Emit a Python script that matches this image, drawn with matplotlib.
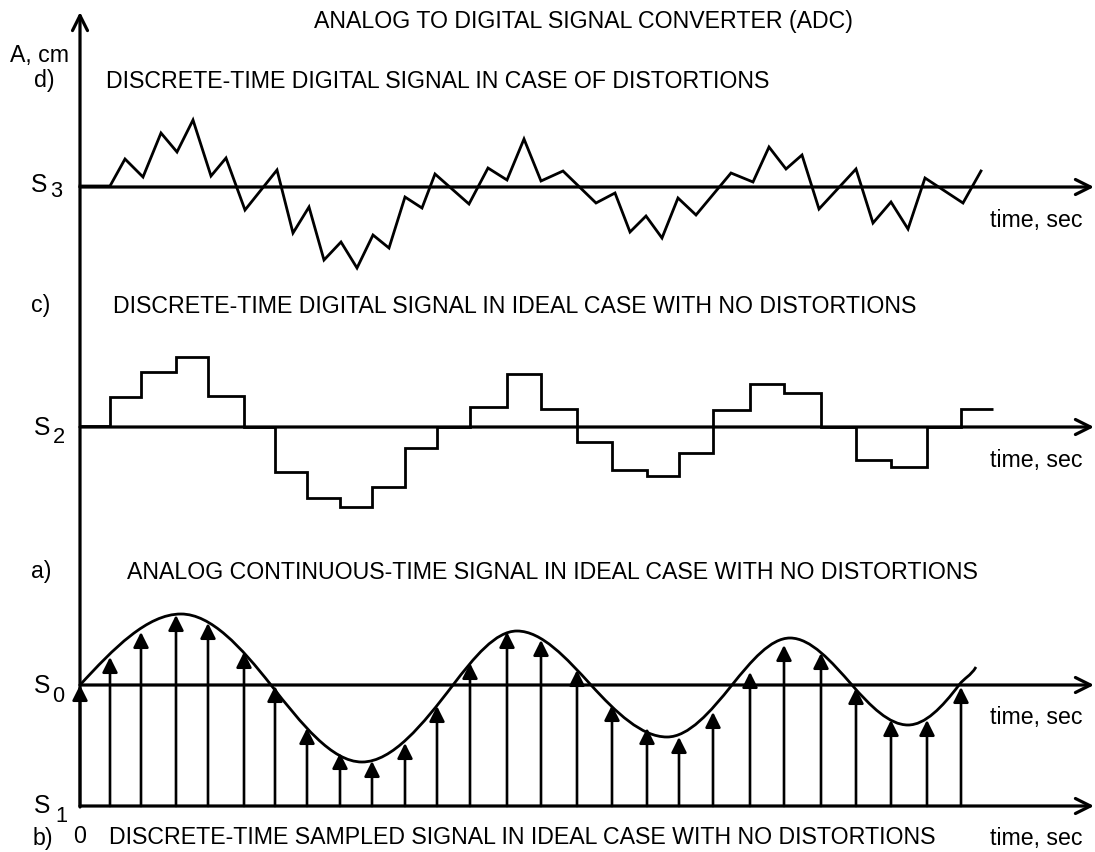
import numpy as np
import matplotlib
matplotlib.use("Agg")
import matplotlib.pyplot as plt
from matplotlib.path import Path
from matplotlib.patches import PathPatch

plt.rcParams['font.family'] = ['Liberation Sans', 'DejaVu Sans']

# sample instants, measured from the time origin
sample_t = [0, 30, 61, 96, 128, 164, 195, 227, 260, 292, 325, 357, 390, 427,
            461, 497, 532, 567, 599, 633, 670, 704, 741, 776, 811, 847, 881]
step_end = 913

# a) analog signal: zero crossings and extremes of the continuous curve
analog_t = [0, 101, 191, 282, 373, 437, 511, 587, 652, 710, 772, 828, 879, 896]
analog_a = [0, 71, 0, -77, 0, 54, 0, -52, 0, 47, 0, -40, 0, 18]

# b) sampled values (arrow heights above S0)
sampled_a = [0, 28, 53, 70, 62, 33, -1, -43, -68, -76, -58, -21, 22, 53,
             45, 15, -20, -43, -52, -27, 13, 40, 32, -3, -35, -35, -2]

# c) quantized levels held over each sample period
quant_a = [1, 30, 55, 70, 31, 0, -45, -71, -80, -60, -21, 0, 20, 53,
           18, -15, -43, -49, -26, 17, 43, 34, 0, -33, -40, 0, 18]

# d) digital signal with distortions
noisy_t = [0, 30, 45, 63, 81, 97, 113, 131, 146, 165, 197, 213, 229, 244,
           261, 277, 293, 309, 325, 342, 355, 389, 408, 427, 444, 461, 483,
           516, 535, 550, 566, 582, 598, 616, 651, 673, 689, 706, 722, 739,
           776, 793, 811, 828, 845, 883, 901]
noisy_a = [1, 1, 28, 10, 54, 35, 67, 11, 29, -23, 17, -46, -20, -73,
           -55, -81, -48, -61, -10, -21, 13, -17, 19, 7, 48, 6, 16,
           -16, -6, -45, -29, -51, -11, -28, 14, 5, 40, 18, 32, -22,
           18, -36, -15, -42, 9, -16, 16]

# layout (figure pixels, y downwards)
X0 = 80
X_END = 1094
Y_S3, Y_S2, Y_S0, Y_S1 = 187, 427, 685, 806

LW_AX = 2.3
LW_SIG = 2.0
FS = 16.7


def wave_path(ts, amps, y0):
    """Cubic path through crossings/extremes: flat at the peaks, steep at the crossings."""
    ts = np.asarray(ts, float)
    amps = np.asarray(amps, float)
    n = len(ts)
    slope = np.zeros(n)
    for i in range(n):
        lo, hi = max(i - 1, 0), min(i + 1, n - 1)
        is_peak = 0 < i < n - 1 and amps[i] != 0
        if not is_peak:
            da = amps[hi] - amps[lo]
            dt = ts[hi] - ts[lo]
            if i == 0 or i == n - 1:
                da, dt = 2 * da, 2 * dt
            slope[i] = 1.55 * da / dt
    xs = X0 + ts
    ys = y0 - amps
    verts = [(xs[0], ys[0])]
    codes = [Path.MOVETO]
    for i in range(n - 1):
        d = (xs[i + 1] - xs[i]) / 3
        verts += [(xs[i] + d, ys[i] - slope[i] * d),
                  (xs[i + 1] - d, ys[i + 1] + slope[i + 1] * d),
                  (xs[i + 1], ys[i + 1])]
        codes += [Path.CURVE4] * 3
    return Path(verts, codes)


def time_axis(ax, y):
    ax.annotate('', xy=(X_END, y), xytext=(X0, y),
                arrowprops=dict(arrowstyle='->', lw=LW_AX, color='black',
                                mutation_scale=27, shrinkA=0, shrinkB=0))


fig = plt.figure(figsize=(10.95, 8.52), dpi=100)
ax = fig.add_axes([0, 0, 1, 1])
ax.set_xlim(0, 1095)
ax.set_ylim(852, 0)
ax.axis('off')

# amplitude axis
ax.annotate('', xy=(X0, 12), xytext=(X0, Y_S1 + 1),
            arrowprops=dict(arrowstyle='->', lw=LW_AX, color='black',
                            mutation_scale=27, shrinkA=0, shrinkB=0))
for y in (Y_S3, Y_S2, Y_S0, Y_S1):
    time_axis(ax, y)

# d) distorted digital signal
ax.plot(X0 + np.array(noisy_t), Y_S3 - np.array(noisy_a),
        color='black', lw=LW_SIG, solid_joinstyle='miter')

# c) quantized staircase
edges = X0 + np.array(sample_t + [step_end])
ax.stairs(Y_S2 - np.array(quant_a), edges, baseline=None,
          color='black', lw=LW_SIG)

# a) continuous analog curve
curve = wave_path(analog_t, analog_a, Y_S0)
ax.add_patch(PathPatch(curve, fill=False, lw=LW_SIG, color='black'))

# b) sample arrows from S1 up to the sampled value
for t, a in zip(sample_t, sampled_a):
    ax.annotate('', xy=(X0 + t, Y_S0 - a), xytext=(X0 + t, Y_S1),
                arrowprops=dict(arrowstyle='-|>', lw=1.9, color='black',
                                mutation_scale=23, shrinkA=0, shrinkB=0))

# texts
ax.text(583.5, 28, 'ANALOG TO DIGITAL SIGNAL CONVERTER (ADC)', ha='center',
        va='baseline', fontsize=FS)
ax.text(39, 62, 'A, cm', ha='center', va='baseline', fontsize=FS)
ax.text(44, 87, 'd)', ha='center', va='baseline', fontsize=FS)
ax.text(106, 88, 'DISCRETE-TIME DIGITAL SIGNAL IN CASE OF DISTORTIONS',
        ha='left', va='baseline', fontsize=FS)
ax.text(41, 312, 'c)', ha='center', va='baseline', fontsize=FS)
ax.text(113, 313, 'DISCRETE-TIME DIGITAL SIGNAL IN IDEAL CASE WITH NO DISTORTIONS',
        ha='left', va='baseline', fontsize=FS)
ax.text(41, 578, 'a)', ha='center', va='baseline', fontsize=FS)
ax.text(127, 579, 'ANALOG CONTINUOUS-TIME SIGNAL IN IDEAL CASE WITH NO DISTORTIONS',
        ha='left', va='baseline', fontsize=FS)
ax.text(43, 845, 'b)', ha='center', va='baseline', fontsize=FS)
ax.text(80, 843, '0', ha='center', va='baseline', fontsize=FS)
ax.text(109, 844, 'DISCRETE-TIME SAMPLED SIGNAL IN IDEAL CASE WITH NO DISTORTIONS',
        ha='left', va='baseline', fontsize=FS)

for yb in (227, 467, 724, 845):
    ax.text(1082, yb, 'time, sec', ha='right', va='baseline', fontsize=FS)

# level labels S3, S2, S0, S1
levels = [('3', 39, 192, 56, 197), ('2', 42, 435, 59, 443),
          ('0', 42, 693, 58, 702), ('1', 42, 813, 61, 822)]
for sub, xs, ys, xd, yd in levels:
    ax.text(xs, ys, 'S', ha='center', va='baseline', fontsize=FS + 1)
    ax.text(xd, yd, sub, ha='center', va='baseline', fontsize=FS - 1)

fig.savefig('out.png', dpi=100)
